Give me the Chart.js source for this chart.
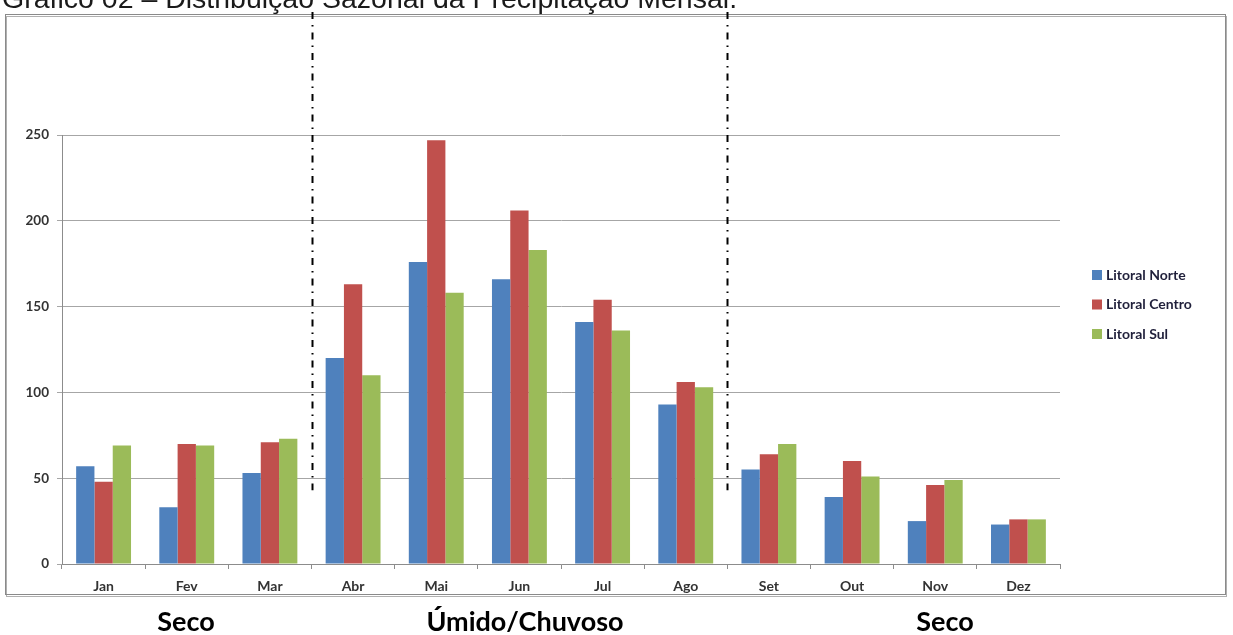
<!DOCTYPE html>
<html lang="pt">
<head>
<meta charset="utf-8">
<title>Distribuição Sazonal da Precipitação Mensal</title>
<script src="https://cdn.jsdelivr.net/npm/chart.js@4/dist/chart.umd.min.js"></script>
<style>
  html, body { margin: 0; padding: 0; background: #ffffff; }
  canvas { display: block; }
</style>
</head>
<body>
<canvas id="chuva" width="1233" height="635"></canvas>
<script>
// Precipitação média mensal (mm) por região do litoral
const meses = ['Jan', 'Fev', 'Mar', 'Abr', 'Mai', 'Jun', 'Jul', 'Ago', 'Set', 'Out', 'Nov', 'Dez'];
const litoralNorte  = [57, 33, 53, 120, 176, 166, 141, 93, 55, 39, 25, 23];
const litoralCentro = [48, 70, 71, 163, 247, 206, 154, 106, 64, 60, 46, 26];
const litoralSul    = [69, 69, 73, 110, 158, 183, 136, 103, 70, 51, 49, 26];
const nomesSeries = ['Litoral Norte', 'Litoral Centro', 'Litoral Sul'];
const coresSeries = ['#4f81bd', '#c0504d', '#9bbb59'];
const yTicks = [0, 50, 100, 150, 200, 250];

// Períodos do ano: índice do primeiro e último mês de cada um
const periodos = [
  { nome: 'Seco', de: 0, ate: 2, cx: 186 },
  { nome: 'Úmido/Chuvoso', de: 3, ate: 7, cx: 525 },
  { nome: 'Seco', de: 8, ate: 11, cx: 945 }
];
const titulo = 'Gráfico 02 – Distribuição Sazonal da Precipitação Mensal.';

const FONTE = 'Lato, "Open Sans", sans-serif';

const molduraPlugin = {
  id: 'moldura',
  beforeDraw(chart) {
    const ctx = chart.ctx;
    ctx.save();
    ctx.fillStyle = '#ffffff';
    ctx.fillRect(0, 0, chart.width, chart.height);
    // título (parcialmente cortado pela borda superior)
    ctx.fillStyle = '#1a1a1a';
    ctx.font = '28.5px "Liberation Sans", Arial, sans-serif';
    ctx.textBaseline = 'alphabetic';
    ctx.textAlign = 'left';
    ctx.fillText(titulo, 2, 8);
    // moldura do gráfico
    ctx.strokeStyle = '#b0b0b0';
    ctx.lineWidth = 1;
    ctx.strokeRect(6.5, 16.5, 1220, 580);
    ctx.strokeStyle = '#8a8a8a';
    ctx.strokeRect(5.5, 14.5, 1220, 580);
    ctx.restore();
  },
  afterDraw(chart) {
    const ctx = chart.ctx;
    const x = chart.scales.x;
    const y = chart.scales.y;
    ctx.save();

    // divisórias tracejadas entre os períodos
    ctx.strokeStyle = '#000000';
    ctx.lineWidth = 2;
    ctx.setLineDash([7, 6, 1.5, 6]);
    const yFim = y.getPixelForValue(43);
    periodos.slice(1).forEach(p => {
      const px = Math.round((x.getPixelForValue(p.de - 1) + x.getPixelForValue(p.de)) / 2) + 0.5;
      ctx.beginPath();
      ctx.moveTo(px, 12);
      ctx.lineTo(px, yFim);
      ctx.stroke();
    });
    ctx.setLineDash([]);

    // legenda
    ctx.font = 'bold 14px ' + FONTE;
    ctx.textBaseline = 'middle';
    ctx.textAlign = 'left';
    chart.data.datasets.forEach((ds, i) => {
      const cy = 275 + i * 29.5;
      ctx.fillStyle = ds.backgroundColor;
      ctx.fillRect(1092, cy - 5, 10, 10);
      ctx.fillStyle = '#1f1f3a';
      ctx.fillText(ds.label, 1106, cy);
    });

    // nomes dos períodos
    ctx.font = 'bold 27px ' + FONTE;
    ctx.fillStyle = '#000000';
    ctx.textAlign = 'center';
    ctx.textBaseline = 'alphabetic';
    periodos.forEach(p => {
      ctx.fillText(p.nome, p.cx, 631);
    });
    ctx.restore();
  }
};

const ctx = document.getElementById('chuva').getContext('2d');
new Chart(ctx, {
  type: 'bar',
  data: {
    labels: meses,
    datasets: [litoralNorte, litoralCentro, litoralSul].map((vals, i) => ({
      label: nomesSeries[i],
      data: vals,
      backgroundColor: coresSeries[i],
      borderWidth: 0,
      categoryPercentage: 0.66,
      barPercentage: 1.0
    }))
  },
  options: {
    responsive: false,
    devicePixelRatio: 1,
    animation: false,
    layout: { padding: { left: 0, top: 135, right: 173, bottom: 41 } },
    plugins: {
      legend: { display: false },
      tooltip: { enabled: false },
      title: { display: false }
    },
    scales: {
      x: {
        afterFit(scale) { scale.height = 30; },
        grid: {
          offset: true,
          drawOnChartArea: false,
          drawTicks: true,
          tickLength: 5,
          color: '#8c8c8c'
        },
        border: { display: true, color: '#8c8c8c', width: 1 },
        ticks: {
          color: '#333333',
          font: { family: FONTE, size: 14, weight: 'bold' },
          padding: 9,
          maxRotation: 0
        }
      },
      y: {
        min: 0,
        max: 250,
        afterFit(scale) { scale.width = 62; },
        afterBuildTicks(scale) { scale.ticks = yTicks.map(v => ({ value: v })); },
        grid: {
          color: '#a6a6a6',
          tickLength: 5,
          lineWidth: 1
        },
        border: { display: true, color: '#8c8c8c', width: 1 },
        ticks: {
          color: '#333333',
          font: { family: FONTE, size: 13.5, weight: 'bold' },
          padding: 8
        }
      }
    }
  },
  plugins: [molduraPlugin]
});
</script>
</body>
</html>
